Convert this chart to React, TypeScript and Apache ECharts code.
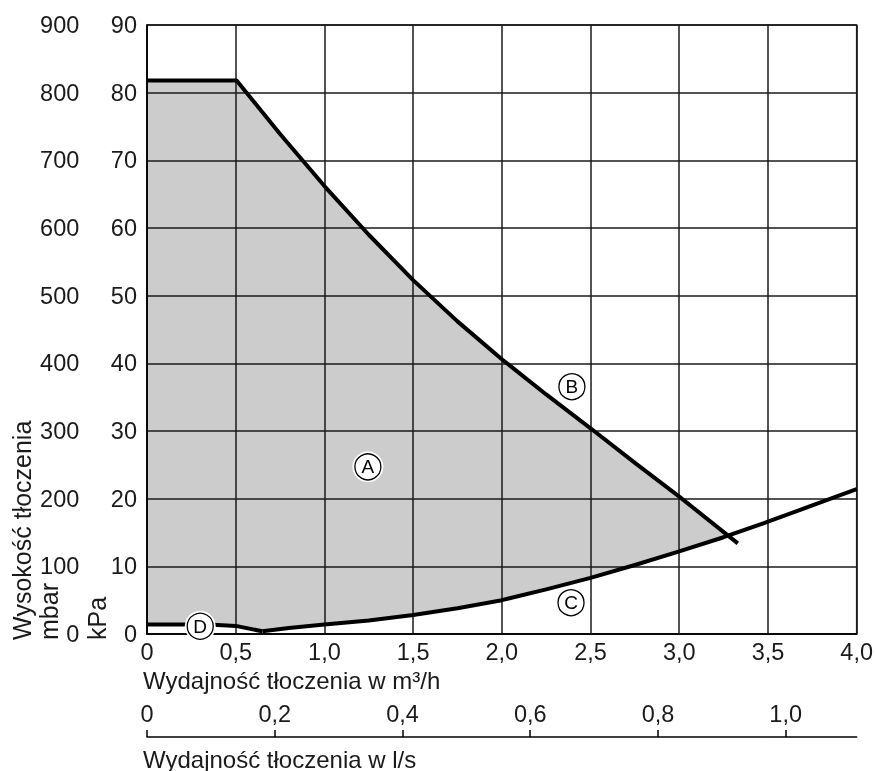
import React, { useEffect, useRef } from "react";
import * as echarts from "echarts";

// Curve B (upper limit), x in m³/h, y in kPa
const curveB: [number, number][] = [
  [0, 81.8], [0.505, 81.8], [0.75, 73.9], [1.0, 66.2], [1.25, 59.0], [1.5, 52.3],
  [1.75, 46.2], [2.0, 40.6], [2.25, 35.4], [2.5, 30.4], [2.75, 25.3], [3.0, 20.3], [3.33, 13.4],
];
// Curve D (low-flow part of the lower limit)
const curveD: [number, number][] = [[0, 1.4], [0.35, 1.4], [0.5, 1.2], [0.65, 0.4]];
// Curve C (lower limit)
const curveC: [number, number][] = [
  [0.65, 0.4], [0.8, 0.9], [1.0, 1.4], [1.25, 2.0], [1.5, 2.8], [1.75, 3.8],
  [2.0, 5.0], [2.25, 6.6], [2.5, 8.3], [2.75, 10.2], [3.0, 12.2], [3.25, 14.3],
  [3.5, 16.6], [3.75, 19.0], [4.0, 21.4],
];
// Where B meets C (end of shaded area A)
const crossing: [number, number] = [3.27, 14.45];
// Circled labels
const markerNames = ["A", "B", "C", "D"];
const markerPos: [number, number][] = [[1.245, 24.7], [2.395, 36.55], [2.39, 4.63], [0.3, 1.15]];

const LS_TICKS = [0, 0.2, 0.4, 0.6, 0.8, 1.0];
const LS_MAX = 4 / 3.6;

const FONT = "'Liberation Sans', Arial, Helvetica, sans-serif";
const fmt = (v: number) => (v === 0 ? "0" : v.toFixed(1).replace(".", ","));

export default function App() {
  const ref = useRef<HTMLDivElement>(null);
  useEffect(() => {
    if (!ref.current) return;
    const chart = echarts.init(ref.current, null, { renderer: "svg" });
    const lower = [...curveD, ...curveC.slice(1)];
    const upperPart = curveB.filter((p) => p[0] < crossing[0]);
    const lowerPart = lower.filter((p) => p[0] < crossing[0]);
    const poly = [...upperPart, crossing, ...lowerPart.slice().reverse()];

    const gridColor = "#1a1a1a";
    const txt = "#1a1a1a";
    chart.setOption({
      animation: false,
      grid: { left: 147, top: 25, width: 711, height: 609, show: true, borderColor: gridColor, borderWidth: 1.5 },
      xAxis: [
        {
          type: "value", min: 0, max: 4, interval: 0.5, position: "bottom",
          axisLine: { show: true, onZero: false, lineStyle: { color: "#000", width: 1.5 } },
          axisTick: { show: false },
          axisLabel: { margin: 6, fontSize: 23.5, color: txt, fontFamily: FONT, formatter: fmt },
          splitLine: { show: true, lineStyle: { color: gridColor, width: 1.5 } },
        },
        {
          type: "value", min: 0, max: LS_MAX, interval: 0.2, position: "bottom", offset: 103,
          axisLine: { show: true, onZero: false, lineStyle: { color: "#000", width: 1.5 } },
          axisTick: { show: true, inside: true, length: 7, customValues: LS_TICKS, lineStyle: { color: "#000", width: 1.5 } },
          axisLabel: { inside: true, margin: 11, fontSize: 23.5, color: txt, fontFamily: FONT, customValues: LS_TICKS, formatter: fmt },
          splitLine: { show: false },
        },
      ],
      yAxis: [
        {
          type: "value", min: 0, max: 90, interval: 10, position: "left",
          axisLine: { show: true, onZero: false, lineStyle: { color: "#000", width: 1.5 } },
          axisTick: { show: false },
          axisLabel: { margin: 10, fontSize: 23.5, color: txt, fontFamily: FONT },
          splitLine: { show: true, lineStyle: { color: gridColor, width: 1.5 } },
        },
        {
          type: "value", min: 0, max: 900, interval: 100, position: "left", offset: 57.7,
          axisLine: { show: false, onZero: false }, axisTick: { show: false },
          axisLabel: { margin: 10, fontSize: 23.5, color: txt, fontFamily: FONT },
          splitLine: { show: false },
        },
      ],
      series: [
        {
          type: "custom", z: -1, xAxisIndex: 0, yAxisIndex: 0, data: [[0, 0]], silent: true,
          renderItem: (_p: any, api: any) => ({
            type: "polygon",
            shape: { points: poly.map((p) => api.coord(p)) },
            style: { fill: "#cccccc" },
          }),
        },
        {
          type: "line", xAxisIndex: 0, yAxisIndex: 0, data: curveB, symbol: "none",
          lineStyle: { color: "#000", width: 4 }, z: 3,
        },
        {
          type: "line", xAxisIndex: 0, yAxisIndex: 0, data: curveD, symbol: "none",
          lineStyle: { color: "#000", width: 4 }, z: 3,
        },
        {
          type: "line", xAxisIndex: 0, yAxisIndex: 0, data: curveC, symbol: "none",
          lineStyle: { color: "#000", width: 4 }, z: 3,
        },
        {
          type: "scatter", xAxisIndex: 0, yAxisIndex: 0, data: markerPos, symbol: "circle", symbolSize: 31,
          itemStyle: { color: "#fff", opacity: 1 }, z: 5,
        },
        {
          type: "scatter", xAxisIndex: 0, yAxisIndex: 0, data: markerPos, symbol: "circle", symbolSize: 26,
          itemStyle: { color: "#fff", borderColor: "#000", borderWidth: 1.3, opacity: 1 }, z: 6,
          label: {
            show: true, position: "inside", fontSize: 19, color: "#000", fontFamily: FONT,
            formatter: (p: any) => markerNames[p.dataIndex],
          },
        },
      ],
      graphic: [
        { type: "text", x: 143, y: 680, style: { text: "Wydajność tłoczenia w m³/h", font: `24px ${FONT}`, fill: txt, textAlign: "left", textVerticalAlign: "middle" } },
        { type: "text", x: 143, y: 759, style: { text: "Wydajność tłoczenia w l/s", font: `24px ${FONT}`, fill: txt, textAlign: "left", textVerticalAlign: "middle" } },
        { type: "text", x: 22, y: 640, rotation: Math.PI / 2, style: { text: "Wysokość tłoczenia", font: `25px ${FONT}`, fill: txt, textAlign: "left", textVerticalAlign: "middle" } },
        { type: "text", x: 48.5, y: 640, rotation: Math.PI / 2, style: { text: "mbar", font: `25px ${FONT}`, fill: txt, textAlign: "left", textVerticalAlign: "middle" } },
        { type: "text", x: 97, y: 640, rotation: Math.PI / 2, style: { text: "kPa", font: `25px ${FONT}`, fill: txt, textAlign: "left", textVerticalAlign: "middle" } },
      ],
    });
    return () => chart.dispose();
  }, []);
  return <div ref={ref} style={{ position: "fixed", left: 0, top: 0, width: 876, height: 771 }} />;
}
